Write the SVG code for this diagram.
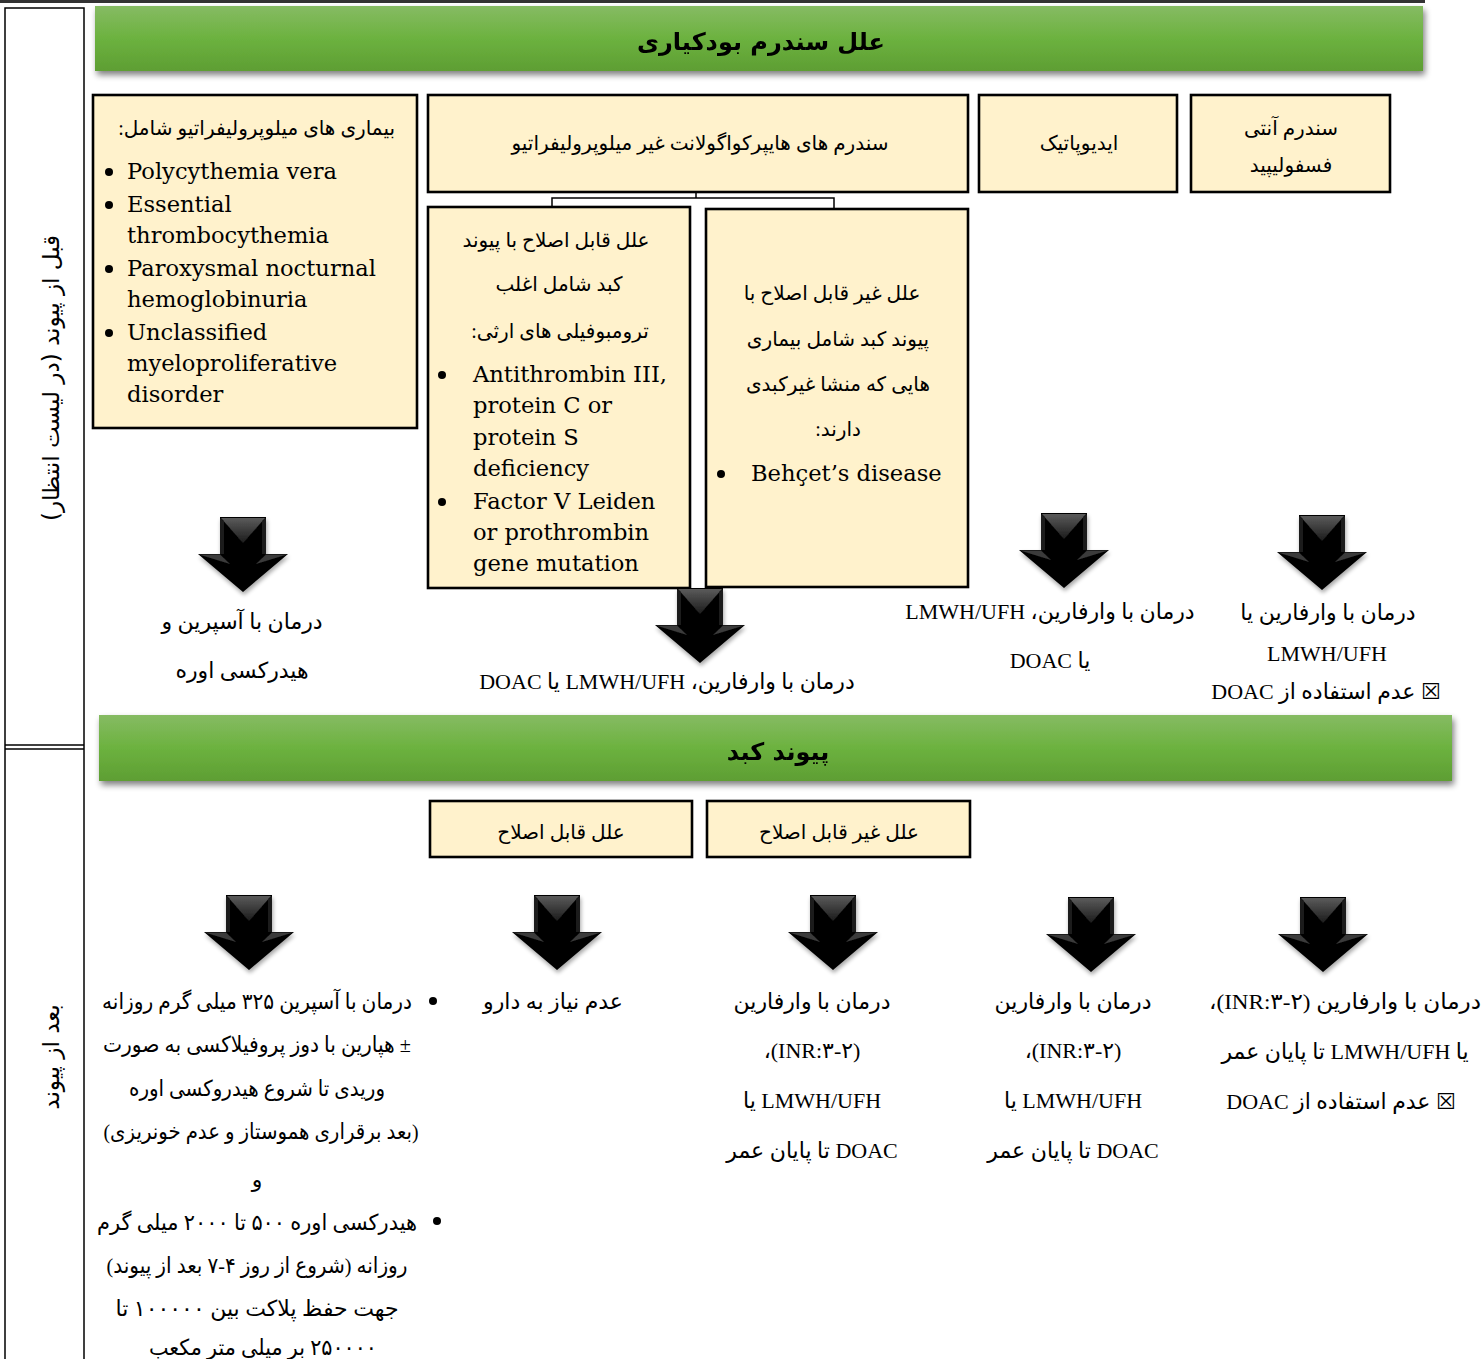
<svg xmlns="http://www.w3.org/2000/svg" width="1484" height="1359" viewBox="0 0 1484 1359">
<defs>
<style>
.box{fill:#FFF2CC;stroke:#000;stroke-width:2.6}
.fa{font-family:"Liberation Serif","DejaVu Sans",serif;font-size:20px;fill:#000}
.tr{font-family:"Liberation Serif","DejaVu Sans",serif;font-size:22px;fill:#000}
.en{font-family:"DejaVu Serif",serif;font-size:22.6px;fill:#000}
.hd{font-family:"DejaVu Sans",sans-serif;font-size:24px;font-weight:bold;fill:#000}
.side{font-family:"DejaVu Sans",sans-serif;font-size:23px;fill:#000}
.line{fill:none;stroke:#000;stroke-width:1.5}
</style>
<linearGradient id="green" x1="0" y1="0" x2="0" y2="1">
<stop offset="0" stop-color="#86bb63"/>
<stop offset="0.5" stop-color="#6cb23f"/>
<stop offset="1" stop-color="#5e9e33"/>
</linearGradient>
<linearGradient id="facet" x1="0" y1="0" x2="0" y2="1">
<stop offset="0" stop-color="#5a5a5a"/>
<stop offset="1" stop-color="#1c1c1c"/>
</linearGradient>
<filter id="sh" x="-5%" y="-20%" width="110%" height="160%">
<feGaussianBlur in="SourceAlpha" stdDeviation="3"/>
<feOffset dx="2" dy="4" result="b"/>
<feComponentTransfer><feFuncA type="linear" slope="0.5"/></feComponentTransfer>
<feMerge><feMergeNode/><feMergeNode in="SourceGraphic"/></feMerge>
</filter>
<filter id="ash" x="-30%" y="-20%" width="160%" height="150%">
<feGaussianBlur in="SourceAlpha" stdDeviation="2"/>
<feOffset dx="1" dy="3"/>
<feComponentTransfer><feFuncA type="linear" slope="0.35"/></feComponentTransfer>
<feMerge><feMergeNode/><feMergeNode in="SourceGraphic"/></feMerge>
</filter>
<g id="arrow" filter="url(#ash)">
<polygon points="-23,0 23,0 23,37 45,37 0,75 -45,37 -23,37" fill="#050505"/>
<polygon points="-22,1 22,1 0,26" fill="url(#facet)"/>
<polygon points="-44,37.5 -23,37.5 -13,47" fill="#3a3a3a"/>
<polygon points="44,37.5 23,37.5 13,47" fill="#3a3a3a"/>
<polygon points="-23,1 -19,4 -19,37 -23,37" fill="#1a1a1a"/>
<polygon points="23,1 19,4 19,37 23,37" fill="#1a1a1a"/>
</g>
</defs>
<rect width="1484" height="1359" fill="#fff"/>

<!-- top rule -->
<rect x="0" y="0" width="1425" height="3" fill="#333"/>

<!-- side column -->
<g id="side-column">
<rect x="5" y="8" width="79" height="1360" fill="none" stroke="#000" stroke-width="1.5"/>
<line x1="5" y1="745" x2="84" y2="745" stroke="#000" stroke-width="1.5"/>
<line x1="5" y1="749" x2="84" y2="749" stroke="#000" stroke-width="1.5"/>
<text class="side" transform="translate(59,378) rotate(-90)" text-anchor="middle" direction="rtl">قبل از پیوند (در لیست انتظار)</text>
<text class="side" transform="translate(59,1057) rotate(-90)" text-anchor="middle" direction="rtl">بعد از پیوند</text>
</g>

<!-- banners -->
<g id="banner-top" filter="url(#sh)">
<rect x="95" y="6" width="1328" height="65" fill="url(#green)"/>
<text class="hd" x="761" y="50" text-anchor="middle" direction="rtl">علل سندرم بودکیاری</text>
</g>
<g id="banner-transplant" filter="url(#sh)">
<rect x="99" y="715" width="1353" height="66" fill="url(#green)"/>
<text class="hd" x="778" y="760" text-anchor="middle" direction="rtl">پیوند کبد</text>
</g>

<!-- boxes -->
<g id="node-mpn">
<rect class="box" x="93" y="95" width="324" height="333"/>
<text class="fa" x="395" y="135" text-anchor="start" direction="rtl">بیماری های میلوپرولیفراتیو شامل:</text>
<circle cx="109" cy="172" r="4"/><text class="en" x="127" y="179">Polycythemia vera</text>
<circle cx="109" cy="205" r="4"/><text class="en" x="127" y="212">Essential</text>
<text class="en" x="127" y="243">thrombocythemia</text>
<circle cx="109" cy="269" r="4"/><text class="en" x="127" y="276">Paroxysmal nocturnal</text>
<text class="en" x="127" y="307">hemoglobinuria</text>
<circle cx="109" cy="333" r="4"/><text class="en" x="127" y="340">Unclassified</text>
<text class="en" x="127" y="371">myeloproliferative</text>
<text class="en" x="127" y="402">disorder</text>
</g>

<g id="node-nonmpn">
<rect class="box" x="428" y="95" width="540" height="97"/>
<text class="fa" x="700" y="150" text-anchor="middle" direction="rtl">سندرم های هایپرکواگولانت غیر میلوپرولیفراتیو</text>
</g>

<g id="node-idiopathic">
<rect class="box" x="979" y="95" width="198" height="97"/>
<text class="fa" x="1079" y="150" text-anchor="middle" direction="rtl">ایدیوپاتیک</text>
</g>

<g id="node-aps">
<rect class="box" x="1191" y="95" width="199" height="97"/>
<text class="fa" x="1291" y="135" text-anchor="middle" direction="rtl">سندرم آنتی</text>
<text class="fa" x="1291" y="172" text-anchor="middle" direction="rtl">فسفولیپید</text>
</g>

<g id="node-correctable">
<rect class="box" x="428" y="207" width="262" height="381"/>
<text class="fa" x="556" y="247" text-anchor="middle" direction="rtl">علل قابل اصلاح با پیوند</text>
<text class="fa" x="559" y="291" text-anchor="middle" direction="rtl">کبد شامل اغلب</text>
<text class="fa" x="560" y="338" text-anchor="middle" direction="rtl">ترومبوفیلی های ارثی:</text>
<circle cx="442" cy="375" r="4"/><text class="en" x="473" y="382">Antithrombin III,</text>
<text class="en" x="473" y="413">protein C or</text>
<text class="en" x="473" y="445">protein S</text>
<text class="en" x="473" y="476">deficiency</text>
<circle cx="442" cy="502" r="4"/><text class="en" x="473" y="509">Factor V Leiden</text>
<text class="en" x="473" y="540">or prothrombin</text>
<text class="en" x="473" y="571">gene mutation</text>
</g>

<g id="node-noncorrectable">
<rect class="box" x="706" y="209" width="262" height="378"/>
<text class="fa" x="832" y="300" text-anchor="middle" direction="rtl">علل غیر قابل اصلاح با</text>
<text class="fa" x="838" y="346" text-anchor="middle" direction="rtl">پیوند کبد شامل بیماری</text>
<text class="fa" x="838" y="391" text-anchor="middle" direction="rtl">هایی که منشا غیرکبدی</text>
<text class="fa" x="838" y="436" text-anchor="middle" direction="rtl">دارند:</text>
<circle cx="721" cy="474" r="4"/><text class="en" x="751" y="481">Behçet’s disease</text>
</g>

<g id="node-post-correctable">
<rect class="box" x="430" y="801" width="262" height="56"/>
<text class="fa" x="561" y="839" text-anchor="middle" direction="rtl">علل قابل اصلاح</text>
</g>
<g id="node-post-noncorrectable">
<rect class="box" x="707" y="801" width="263" height="56"/>
<text class="fa" x="839" y="839" text-anchor="middle" direction="rtl">علل غیر قابل اصلاح</text>
</g>

<!-- treatment texts (pre) -->
<g id="node-tx-mpn">
<text class="tr" x="242" y="629" text-anchor="middle" direction="rtl">درمان با آسپرین و</text>
<text class="tr" x="242" y="678" text-anchor="middle" direction="rtl">هیدرکسی اوره</text>
</g>
<g id="node-tx-nonmpn">
<text class="tr" x="667" y="689" text-anchor="middle" direction="rtl">درمان با وارفارین، LMWH/UFH یا DOAC</text>
</g>
<g id="node-tx-idiopathic">
<text class="tr" x="1050" y="619" text-anchor="middle" direction="rtl">درمان با وارفارین، LMWH/UFH</text>
<text class="tr" x="1050" y="668" text-anchor="middle" direction="rtl">یا DOAC</text>
</g>
<g id="node-tx-aps">
<text class="tr" x="1328" y="620" text-anchor="middle" direction="rtl">درمان با وارفارین یا</text>
<text class="tr" x="1327" y="661" text-anchor="middle" direction="rtl">LMWH/UFH</text>
<text class="tr" x="1326" y="699" text-anchor="middle" direction="rtl">☒ عدم استفاده از DOAC</text>
</g>

<!-- treatment texts (post) -->
<g id="node-post-mpn">
<circle cx="433" cy="1001" r="4"/>
<text class="tr" x="257" y="1009" text-anchor="middle" direction="rtl" textLength="310" lengthAdjust="spacingAndGlyphs">درمان با آسپرین ۳۲۵ میلی گرم روزانه</text>
<text class="tr" x="257" y="1052" text-anchor="middle" direction="rtl" textLength="308" lengthAdjust="spacingAndGlyphs">± هپارین با دوز پروفیلاکسی به صورت</text>
<text class="tr" x="257" y="1096" text-anchor="middle" direction="rtl" textLength="256" lengthAdjust="spacingAndGlyphs">وریدی تا شروع هیدروکسی اوره</text>
<text class="tr" x="261" y="1139" text-anchor="middle" direction="rtl" textLength="315" lengthAdjust="spacingAndGlyphs">(بعد برقراری هموستاز و عدم خونریزی)</text>
<text class="tr" x="257" y="1187" text-anchor="middle" direction="rtl">و</text>
<circle cx="437" cy="1221" r="4"/>
<text class="tr" x="257" y="1230" text-anchor="middle" direction="rtl" textLength="320" lengthAdjust="spacingAndGlyphs">هیدرکسی اوره ۵۰۰ تا ۲۰۰۰ میلی گرم</text>
<text class="tr" x="257" y="1273" text-anchor="middle" direction="rtl" textLength="301" lengthAdjust="spacingAndGlyphs">روزانه (شروع از روز ۴-۷ بعد از پیوند)</text>
<text class="tr" x="257" y="1316" text-anchor="middle" direction="rtl" textLength="283" lengthAdjust="spacingAndGlyphs">جهت حفظ پلاکت بین ۱۰۰۰۰۰ تا</text>
<text class="tr" x="263" y="1355" text-anchor="middle" direction="rtl" textLength="228" lengthAdjust="spacingAndGlyphs">۲۵۰۰۰۰ بر میلی متر مکعب</text>
</g>
<g id="node-post-nodrug">
<text class="tr" x="553" y="1009" text-anchor="middle" direction="rtl">عدم نیاز به دارو</text>
</g>
<g id="node-post-c3">
<text class="tr" x="812" y="1009" text-anchor="middle" direction="rtl">درمان با وارفارین</text>
<text class="tr" x="812" y="1058" text-anchor="middle" direction="rtl">(INR:۳-۲)،</text>
<text class="tr" x="812" y="1108" text-anchor="middle" direction="rtl">LMWH/UFH یا</text>
<text class="tr" x="812" y="1158" text-anchor="middle" direction="rtl">DOAC  تا پایان عمر</text>
</g>
<g id="node-post-c4">
<text class="tr" x="1073" y="1009" text-anchor="middle" direction="rtl">درمان با وارفارین</text>
<text class="tr" x="1073" y="1058" text-anchor="middle" direction="rtl">(INR:۳-۲)،</text>
<text class="tr" x="1073" y="1108" text-anchor="middle" direction="rtl">LMWH/UFH یا</text>
<text class="tr" x="1073" y="1158" text-anchor="middle" direction="rtl">DOAC تا پایان عمر</text>
</g>
<g id="node-post-c5">
<text class="tr" x="1345" y="1009" text-anchor="middle" direction="rtl" textLength="272" lengthAdjust="spacingAndGlyphs">درمان با وارفارین  (INR:۳-۲)،</text>
<text class="tr" x="1345" y="1059" text-anchor="middle" direction="rtl">یا LMWH/UFH تا پایان عمر</text>
<text class="tr" x="1341" y="1109" text-anchor="middle" direction="rtl">☒ عدم استفاده از DOAC</text>
</g>

<!-- connectors -->
<g id="connectors">
<path class="line" d="M696,192 V198 M552,207 V198 H834 V209"/>
<use href="#arrow" transform="translate(243,517)"/>
<use href="#arrow" transform="translate(700,588)"/>
<use href="#arrow" transform="translate(1064,513)"/>
<use href="#arrow" transform="translate(1322,515)"/>
<use href="#arrow" transform="translate(249,895)"/>
<use href="#arrow" transform="translate(557,895)"/>
<use href="#arrow" transform="translate(833,895)"/>
<use href="#arrow" transform="translate(1091,897)"/>
<use href="#arrow" transform="translate(1323,897)"/>
</g>
</svg>
